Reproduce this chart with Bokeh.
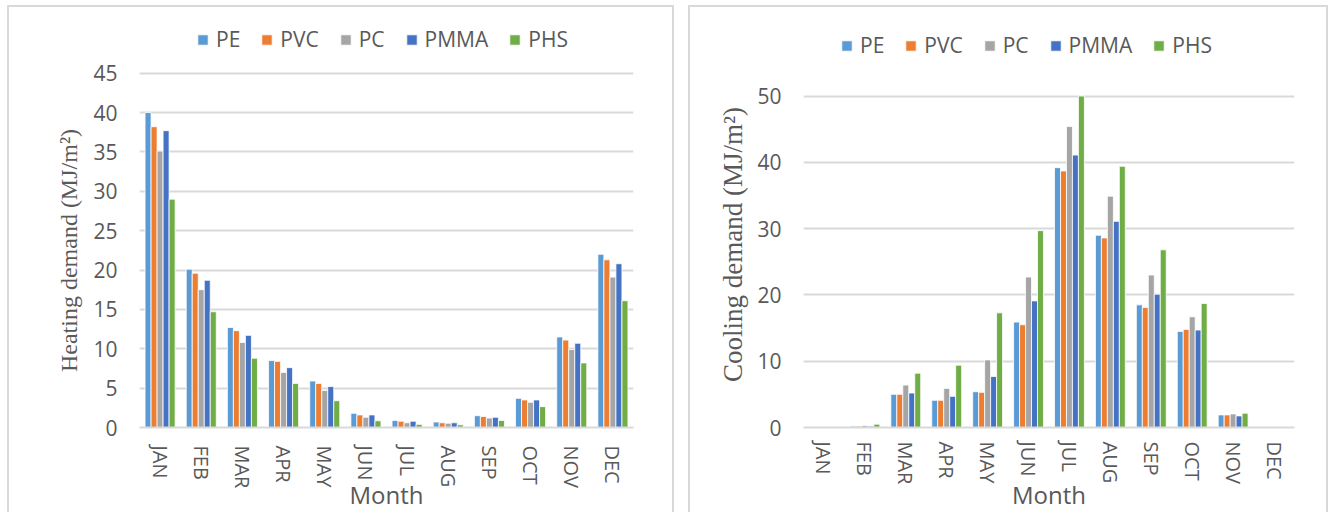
from bokeh.plotting import figure
from bokeh.models import ColumnDataSource, Range1d, FactorRange, Legend, LegendItem, FixedTicker
from bokeh.transform import dodge
from bokeh.layouts import row
from bokeh.embed import file_html
from bokeh.resources import INLINE

months = ["JAN", "FEB", "MAR", "APR", "MAY", "JUN", "JUL", "AUG", "SEP", "OCT", "NOV", "DEC"]
series = ["PE", "PVC", "PC", "PMMA", "PHS"]
colors = ["#5B9BD5", "#ED7D31", "#A5A5A5", "#4472C4", "#70AD47"]

heat_pe = [40.0, 20.1, 12.7, 8.5, 5.9, 1.8, 0.9, 0.7, 1.5, 3.7, 11.5, 22.0]
heat_pvc = [38.2, 19.6, 12.3, 8.4, 5.6, 1.6, 0.8, 0.6, 1.4, 3.5, 11.1, 21.3]
heat_pc = [35.1, 17.5, 10.8, 7.0, 4.7, 1.3, 0.6, 0.55, 1.2, 3.2, 9.9, 19.1]
heat_pmma = [37.7, 18.7, 11.7, 7.6, 5.2, 1.6, 0.8, 0.6, 1.3, 3.5, 10.7, 20.8]
heat_phs = [29.0, 14.7, 8.8, 5.6, 3.4, 0.85, 0.4, 0.35, 0.9, 2.65, 8.2, 16.1]

cool_pe = [0, 0.2, 5.0, 4.1, 5.4, 15.9, 39.2, 29.0, 18.5, 14.5, 1.9, 0]
cool_pvc = [0, 0.2, 5.0, 4.1, 5.3, 15.5, 38.7, 28.6, 18.1, 14.8, 1.9, 0]
cool_pc = [0, 0.3, 6.4, 5.9, 10.2, 22.7, 45.4, 34.9, 23.0, 16.7, 2.05, 0]
cool_pmma = [0, 0.2, 5.2, 4.7, 7.7, 19.1, 41.1, 31.1, 20.1, 14.7, 1.75, 0]
cool_phs = [0, 0.5, 8.2, 9.4, 17.3, 29.7, 50.0, 39.4, 26.8, 18.7, 2.15, 0]

heat_ticks = [0, 5, 10, 15, 20, 25, 30, 35, 40, 45]
cool_ticks = [0, 10, 20, 30, 40, 50]

GRID = "#d9d9d9"
TXT = "#595959"
SANS = "Open Sans"
SERIF = "Liberation Serif"
NBSP = "\u00a0"

H = 507
MB_BOTTOM = 85


def make_chart(values, ymax, ticks, ytitle, ytitle_size, w, mb_left, mb_right,
               legend_loc, title_standoff, month_standoff, xtitle_standoff):
    src = ColumnDataSource(dict(month=months, **{s: v for s, v in zip(series, values)}))
    p = figure(width=w, height=H, x_range=FactorRange(*months), y_range=Range1d(0, ymax),
               output_backend="svg", toolbar_location=None,
               min_border_left=mb_left, min_border_right=mb_right,
               min_border_top=0, min_border_bottom=MB_BOTTOM)
    p.outline_line_color = None
    p.background_fill_color = "white"
    p.border_fill_color = "white"
    p.styles = {"border-top": "2px solid #d9d9d9", "border-left": "2px solid #d9d9d9",
                "border-right": "2px solid #d9d9d9"}
    bw = 0.146
    items = []
    for i, (s, c) in enumerate(zip(series, colors)):
        r = p.vbar(x=dodge("month", (i - 2) * bw, range=p.x_range), top=s, width=bw, bottom=0,
                   source=src, fill_color=c, line_color="white", line_width=0.8)
        items.append(LegendItem(label=s, renderers=[r]))
    p.xgrid.grid_line_color = None
    p.ygrid.grid_line_color = GRID
    p.ygrid.grid_line_width = 2
    p.yaxis.ticker = FixedTicker(ticks=ticks)
    yax = p.yaxis[0]
    yax.axis_line_color = None
    yax.major_tick_line_color = None
    yax.minor_tick_line_color = None
    yax.major_tick_out = 0
    yax.major_tick_in = 0
    yax.major_label_standoff = 22
    yax.major_label_text_font = SANS
    yax.major_label_text_font_size = "21px"
    yax.major_label_text_color = TXT
    yax.axis_label = ytitle
    yax.axis_label_text_font = SERIF
    yax.axis_label_text_font_style = "normal"
    yax.axis_label_text_font_size = ytitle_size
    yax.axis_label_text_color = TXT
    yax.axis_label_standoff = title_standoff
    xax = p.xaxis[0]
    xax.axis_line_color = GRID
    xax.axis_line_width = 2
    xax.major_tick_line_color = None
    xax.minor_tick_line_color = None
    xax.major_tick_out = 0
    xax.major_tick_in = 0
    xax.major_label_orientation = "vertical"
    xax.major_label_standoff = month_standoff
    xax.major_label_text_font = SANS
    xax.major_label_text_font_size = "20px"
    xax.major_label_text_color = TXT
    xax.axis_label = "Month"
    xax.axis_label_text_font = SANS
    xax.axis_label_text_font_style = "normal"
    xax.axis_label_text_font_size = "24px"
    xax.axis_label_text_color = TXT
    xax.axis_label_standoff = xtitle_standoff
    leg = Legend(items=items, location=legend_loc, orientation="horizontal",
                 label_text_font=SANS, label_text_font_size="21px", label_text_color=TXT,
                 glyph_width=13, glyph_height=13, label_standoff=7, spacing=20,
                 padding=0, margin=0, border_line_color=None, background_fill_alpha=0)
    p.add_layout(leg)
    return p


p1 = make_chart([heat_pe, heat_pvc, heat_pc, heat_pmma, heat_phs], 53.34, heat_ticks,
                "Heating demand (MJ/m\u00b2)" + NBSP * 11, "24px", 667, 130, 43, (57, 374), 8, 18, -13)
p2 = make_chart([cool_pe, cool_pvc, cool_pc, cool_pmma, cool_phs], 63.36, cool_ticks,
                "Cooling demand (MJ/m\u00b2)" + NBSP * 8, "27px", 640, 113, 36, (37, 368), 6, 14, -9)

layout = row(p1, p2, spacing=14, margin=(5, 0, 0, 7))
open("out.html", "w").write(file_html(layout, INLINE))
